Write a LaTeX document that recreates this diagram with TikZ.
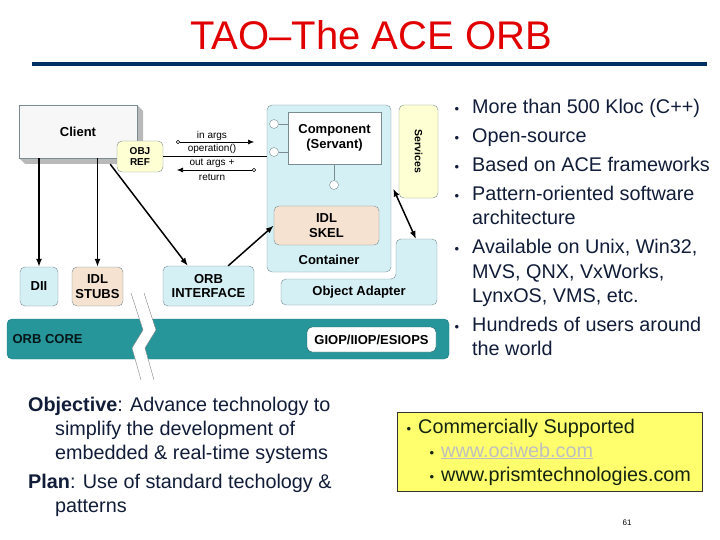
\documentclass[tikz,border=0pt]{standalone}
\usepackage{fontspec}
\setmainfont{Liberation Sans}
\usepackage{xcolor}
\usetikzlibrary{arrows.meta,positioning,calc}

\definecolor{titlered}{RGB}{225,0,0}
\definecolor{rulenavy}{RGB}{0,48,96}
\definecolor{textnavy}{RGB}{16,28,56}
\definecolor{boxline}{RGB}{120,140,145}
\definecolor{boxcyan}{RGB}{212,240,245}
\definecolor{boxpeach}{RGB}{245,226,208}
\definecolor{boxpale}{RGB}{255,255,212}
\definecolor{coreteal}{RGB}{38,150,155}
\definecolor{notebg}{RGB}{255,255,110}
\definecolor{notetext}{RGB}{20,36,16}

\begin{document}
\begin{tikzpicture}[x=1pt,y=-1pt,
  box/.style={draw=boxline, rounded corners=5pt, align=center, inner sep=0pt,
    font=\bfseries\fontsize{13}{14.5}\selectfont},
  cyanbox/.style={box, fill=boxcyan},
  peachbox/.style={box, fill=boxpeach},
  palebox/.style={box, fill=boxpale},
  boxtext/.style={font=\bfseries\fontsize{13}{14.5}\selectfont},
  flow/.style={-{Latex[length=8pt,width=6pt]}, line width=1.5pt},
  argarrow/.style={{Circle[open,length=4pt,width=4pt]}-{Latex[length=6pt,width=5pt]}, line width=0.6pt},
  arglabel/.style={font=\fontsize{10}{11}\selectfont, inner sep=0pt},
  lolli/.style={circle, draw=boxline, fill=white, inner sep=0pt, minimum size=9pt},
  listtext/.style={text=textnavy, inner sep=0pt, anchor=base west,
    font=\fontsize{19.8}{24}\selectfont},
  bodytext/.style={listtext, font=\fontsize{19.8}{24}\selectfont},
  bullet/.style={text=textnavy, inner sep=0pt, anchor=base, font=\fontsize{13}{14}\selectfont}]
  \useasboundingbox (0,0) rectangle (720,540);

  % Title and rule
  \node[text=titlered, font=\fontsize{40}{44}\selectfont] (title) at (371,35) {TAO--The ACE ORB};
  \fill[rulenavy] (32,62) rectangle (707,66);

  % Client with its shadow
  \fill[gray!55] (137,105) -- (143,111) -- (143,164) -- (25,164) -- (19,158) -- cycle;
  \node[draw=boxline, fill=gray!6, minimum width=118pt, minimum height=53pt,
    inner sep=0pt, font=\bfseries\fontsize{13}{14}\selectfont] (client) at (78,131.5) {Client};
  \node[palebox, minimum width=46pt, minimum height=31pt,
    font=\bfseries\fontsize{10}{11}\selectfont] (objref) at (140,156.5) {OBJ\\REF};

  % Server side
  \node[cyanbox, minimum width=124pt, minimum height=167pt] (container) at (329,188.5) {};
  \node[boxtext] (contlabel) at (329,260) {Container};
  \node[draw=boxline, fill=white, minimum width=93pt, minimum height=52pt, inner sep=0pt,
    align=center, font=\bfseries\fontsize{13}{15.5}\selectfont] (comp) at (334.5,138) {Component\\(Servant)};
  \node[peachbox, minimum width=105pt, minimum height=39pt] (skel) at (326.5,225.5) {IDL\\SKEL};
  \node[palebox, rotate=-90, minimum width=93pt, minimum height=39pt,
    font=\bfseries\fontsize{10.5}{12}\selectfont] (services) at (418.5,151.5) {Services};

  % Component ports
  \node[lolli] (port1) at (274,124) {};
  \node[lolli] (port2) at (274,152) {};
  \node[lolli] (port3) at (334,185) {};
  \draw[boxline] (port1) -- (port1 -| comp.west);
  \draw[boxline] (port2) -- (port2 -| comp.west);
  \draw[boxline] (port3) -- (port3 |- comp.south);

  % Object adapter
  \draw[draw=boxline, fill=boxcyan, rounded corners=5pt]
    (281,279) -- (396,279) -- (396,239) -- (437,239) -- (437,305) -- (281,305) -- cycle;
  \node[boxtext] (oa) at (359,292) {Object Adapter};
  \coordinate (oatop) at (416,239);

  % Client side stubs
  \node[cyanbox, minimum width=38pt, minimum height=39pt] (dii) at (39,286.5) {DII};
  \node[peachbox, minimum width=51pt, minimum height=39pt] (stubs) at (97.5,286.5) {IDL\\STUBS};
  \node[cyanbox, minimum width=91pt, minimum height=40pt] (orbif) at (208.5,286) {ORB\\INTERFACE};

  % ORB core
  \node[box, fill=coreteal, draw=coreteal!80!black, minimum width=442pt, minimum height=40pt] (orbcore) at (228,339) {};
  \node[boxtext, anchor=west, text=black!85!coreteal] (coretext) at (9,339) {ORB CORE};
  \node[box, fill=white, draw=coreteal!60!black, minimum width=129pt, minimum height=25pt] (giop) at (371.5,339.5) {GIOP/IIOP/ESIOPS};

  % The break
  \fill[white] (131,293) -- (143,330) -- (132,348) -- (141,380) -- (154,380)
    -- (145,348) -- (156,330) -- (144,293) -- cycle;
  \draw[gray, line width=0.4pt] (131,293) -- (143,330) -- (132,348) -- (141,380);
  \draw[gray, line width=0.4pt] (144,293) -- (156,330) -- (145,348) -- (154,380);

  % Invocation
  \draw[line width=0.6pt] (objref.east) -- (objref.east -| container.west);
  \coordinate (inA) at (176,142);
  \coordinate (inB) at (254,142);
  \coordinate (outA) at (256,170);
  \coordinate (outB) at (177,170);
  \draw[argarrow] (inA) -- (inB);
  \draw[argarrow] (outA) -- (outB);
  \node[arglabel] (inargs) at (212,136) {in args};
  \node[arglabel] (oper) at (212,149) {operation()};
  \node[arglabel] (outargs) at (212,163) {out args +};
  \node[arglabel] (ret) at (212,177) {return};

  % Connectors
  \draw[flow] (client.south -| dii) -- (dii.north);
  \draw[flow] (client.south -| stubs) -- (stubs.north);
  \draw[flow] ([xshift=-27pt,yshift=-6pt]client.south east) -- ([xshift=25pt]orbif.north west);
  \draw[flow] ([xshift=-26pt]orbif.north east) -- (skel.west);
  \draw[{Latex[length=8pt,width=6pt]}-{Latex[length=8pt,width=6pt]}, line width=1.5pt]
    ([xshift=2pt]container.east) -- (oatop);

  % Features, one line per entry (1 = starts a bullet)
  \foreach \y/\t/\b [count=\i] in {114/More than 500 Kloc (C++)/1,
      143/Open-source/1,
      172/Based on ACE frameworks/1,
      201/Pattern-oriented software/1,
      225/architecture/0,
      254/{Available on Unix, Win32,}/1,
      278/{MVS, QNX, VxWorks,}/0,
      302/{LynxOS, VMS, etc.}/0,
      331/Hundreds of users around/1,
      355/the world/0} {
    \ifnum\b=1 \node[bullet] (dot\i) at (457,\y) {•}; \fi
    \node[listtext] (item\i) at (472,\y) {\t};
  }

  % Objective and plan
  \node[bodytext] (obj) at (28,411) {\textbf{Objective}: Advance technology to};
  \node[bodytext] (objmore) at (55,435) {simplify the development of};
  \node[bodytext] (objend) at (55,459) {embedded \& real-time systems};
  \node[bodytext] (plan) at (28,488) {\textbf{Plan}: Use of standard techology \&};
  \node[bodytext] (planmore) at (55,512) {patterns};

  % Support note
  \node[draw=black!80, fill=notebg, minimum width=305pt, minimum height=79pt, inner sep=0pt] (note) at (550,451.5) {};
  \node[bullet, text=notetext] (ndot) at (409,433) {•};
  \node[listtext, text=notetext] (comm) at (418,433) {Commercially Supported};
  \node[bullet, text=notetext] (ndot1) at (432,457) {•};
  \node[listtext, text=gray!50] (oci) at (441,457) {\underline{www.ociweb.com}};
  \node[bullet, text=notetext] (ndot2) at (432,481) {•};
  \node[listtext, text=notetext] (prism) at (441,481) {www.prismtechnologies.com};

  \node[font=\fontsize{8}{9}\selectfont] (page) at (627,523) {61};
\end{tikzpicture}
\end{document}
